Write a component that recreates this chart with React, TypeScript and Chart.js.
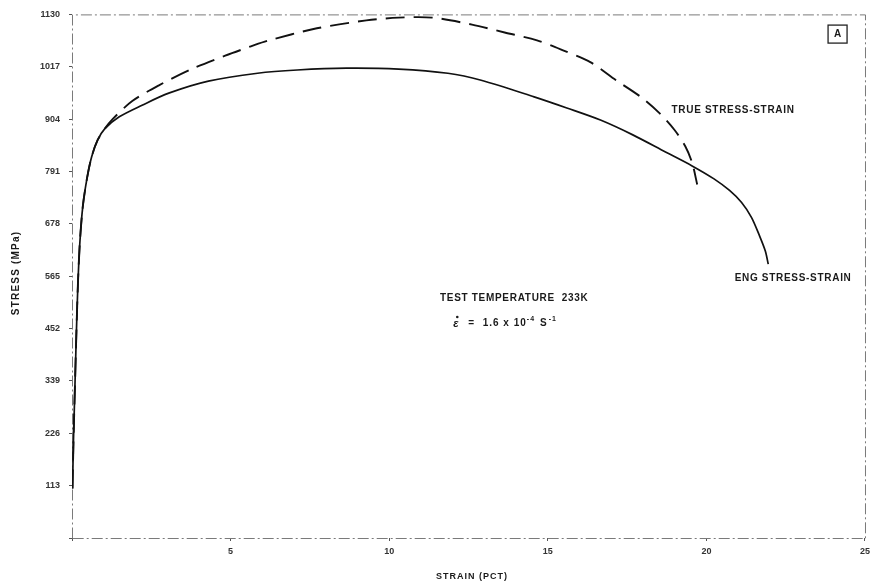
import React, { useEffect, useRef } from "react";
import { Chart, registerables } from "chart.js";

Chart.register(...registerables);

// Engineering stress-strain curve (strain %, stress MPa)
const engStrain = [0.016, 0.047, 0.093, 0.14, 0.19, 0.25, 0.34, 0.47, 0.62, 0.81, 1.03, 1.49, 2.21, 3.05, 4.3, 5.85, 7.1, 8.65, 10.3, 11.85, 12.9, 14.57, 15.6, 16.66, 17.68, 18.71, 19.55, 20.24, 20.73, 21.11, 21.42, 21.67, 21.86, 21.95];
const engStress = [107, 211, 329, 447, 554, 640, 715, 775, 823, 859, 883, 909, 934, 960, 986, 1003, 1010, 1014, 1012, 1003, 988, 952, 928, 902, 870, 833, 803, 775, 750, 724, 692, 653, 619, 591];

// True stress-strain curve
const trueStrain = [0.016, 0.047, 0.093, 0.14, 0.19, 0.25, 0.34, 0.47, 0.62, 0.81, 1.03, 1.28, 1.9, 2.74, 3.77, 4.83, 5.64, 6.16, 7.72, 9.28, 10.3, 11.36, 12.61, 13.64, 14.66, 15.5, 16.34, 17.15, 17.93, 18.52, 18.99, 19.33, 19.55, 19.71];
const trueStress = [107, 211, 329, 447, 554, 640, 715, 775, 823, 859, 883, 904, 943, 977, 1012, 1041, 1061, 1073, 1100, 1117, 1123, 1123, 1108, 1091, 1074, 1052, 1027, 988, 952, 917, 881, 846, 810, 763];

const yTicks = [113, 226, 339, 452, 565, 678, 791, 904, 1017, 1130];
const xTicks = [5, 10, 15, 20, 25];

const FONT = "'Liberation Sans', Arial, sans-serif";

const frame = {
  id: "frame",
  beforeDatasetsDraw(chart: any) {
    const { ctx, chartArea: a } = chart;
    ctx.save();
    ctx.strokeStyle = "#7a7a7a";
    ctx.lineWidth = 1;
    ctx.setLineDash([11, 3, 2, 3]);
    ctx.beginPath();
    ctx.moveTo(a.left + 0.5, a.bottom + 0.5);
    ctx.lineTo(a.left + 0.5, a.top + 0.5);
    ctx.lineTo(a.right + 0.5, a.top + 0.5);
    ctx.lineTo(a.right + 0.5, a.bottom + 0.5);
    ctx.lineTo(a.left + 0.5, a.bottom + 0.5);
    ctx.stroke();
    ctx.restore();
  },
};

const annotations = {
  id: "annotations",
  afterDraw(chart: any) {
    const ctx = chart.ctx;
    const xs = chart.scales.x;
    const ys = chart.scales.y;
    ctx.save();
    ctx.fillStyle = "#1a1a1a";
    ctx.textBaseline = "middle";
    ctx.textAlign = "left";
    ctx.font = `bold 10px ${FONT}`;
    (ctx as any).letterSpacing = "0.7px";
    const lbl = (t: string, sx: number, sy: number) => {
      ctx.fillText(t, xs.getPixelForValue(sx), ys.getPixelForValue(sy));
    };
    lbl("TRUE STRESS-STRAIN", 18.9, 924);
    lbl("ENG STRESS-STRAIN", 20.89, 561);
    lbl("TEST TEMPERATURE  233K", 11.6, 518);
    // strain-rate line
    const x0 = xs.getPixelForValue(12.02);
    const y0 = ys.getPixelForValue(464);
    (ctx as any).letterSpacing = "0px";
    ctx.font = `bold italic 11px ${FONT}`;
    ctx.fillText("ε", x0, y0 + 1);
    ctx.beginPath();
    ctx.arc(x0 + 4, y0 - 6, 1.3, 0, Math.PI * 2);
    ctx.fill();
    (ctx as any).letterSpacing = "1px";
    ctx.font = `bold 10px ${FONT}`;
    let x = x0 + 15;
    const t1 = "=  1.6 x 10";
    ctx.fillText(t1, x, y0);
    x += ctx.measureText(t1).width;
    ctx.font = `bold 7px ${FONT}`;
    ctx.fillText("-4", x, y0 - 4);
    x += ctx.measureText("-4").width + 5;
    ctx.font = `bold 10px ${FONT}`;
    ctx.fillText("S", x, y0);
    x += ctx.measureText("S").width + 1;
    ctx.font = `bold 7px ${FONT}`;
    ctx.fillText("-1", x, y0 - 4);

    // boxed "A"
    (ctx as any).letterSpacing = "0px";
    const bx = xs.getPixelForValue(23.82);
    const by = ys.getPixelForValue(1108);
    ctx.strokeStyle = "#222";
    ctx.lineWidth = 1.3;
    ctx.strokeRect(bx + 0.5, by + 0.5, 19, 18);
    ctx.font = `bold 10px ${FONT}`;
    ctx.textAlign = "center";
    ctx.fillText("A", bx + 10, by + 10);

    // axis titles
    ctx.textAlign = "center";
    ctx.font = `bold 9px ${FONT}`;
    (ctx as any).letterSpacing = "1px";
    ctx.fillText("STRAIN (PCT)", 472, 577);
    ctx.save();
    ctx.translate(16, 273);
    ctx.rotate(-Math.PI / 2);
    ctx.font = `bold 10px ${FONT}`;
    (ctx as any).letterSpacing = "1.2px";
    ctx.fillText("STRESS (MPa)", 0, 0);
    ctx.restore();
    ctx.restore();
  },
};

export default function App() {
  const ref = useRef<HTMLCanvasElement>(null);
  useEffect(() => {
    if (!ref.current) return;
    const chart = new Chart(ref.current, {
      type: "scatter",
      data: {
        datasets: [
          {
            label: "ENG STRESS-STRAIN",
            data: engStrain.map((s, i) => ({ x: s, y: engStress[i] })),
            showLine: true,
            borderColor: "#111",
            borderWidth: 1.7,
            pointRadius: 0,
            tension: 0.3,
            fill: false,
          },
          {
            label: "TRUE STRESS-STRAIN",
            data: trueStrain.map((s, i) => ({ x: s, y: trueStress[i] })),
            showLine: true,
            borderColor: "#111",
            borderWidth: 1.9,
            borderDash: [19, 9],
            pointRadius: 0,
            tension: 0.3,
            fill: false,
          },
        ],
      },
      plugins: [frame, annotations],
      options: {
        responsive: false,
        animation: false,
        layout: { padding: { left: 0, right: 9, top: 12, bottom: 0 } },
        plugins: { legend: { display: false }, tooltip: { enabled: false } },
        scales: {
          x: {
            type: "linear",
            min: 0,
            max: 25,
            afterFit: (s: any) => { s.height = 49; },
            afterBuildTicks: (s: any) => { s.ticks = [0, ...xTicks].map((v) => ({ value: v })); },
            border: { display: false },
            grid: { display: true, drawOnChartArea: false, drawTicks: true, tickLength: 3, color: "#555" },
            ticks: {
              padding: 5,
              color: "#333",
              font: { family: FONT, size: 9, weight: "bold" },
              callback: (v: any) => (v === 0 ? "" : String(v)),
            },
          },
          y: {
            type: "linear",
            min: 0,
            max: 1130,
            afterFit: (s: any) => { s.width = 72; },
            afterBuildTicks: (s: any) => { s.ticks = [0, ...yTicks].map((v) => ({ value: v })); },
            border: { display: false },
            grid: { display: true, drawOnChartArea: false, drawTicks: true, tickLength: 3, color: "#555" },
            ticks: {
              padding: 9,
              color: "#333",
              font: { family: FONT, size: 9, weight: "bold" },
              callback: (v: any) => (v === 0 ? "" : String(Math.round(v))),
            },
          },
        },
      },
    } as any);
    return () => chart.destroy();
  }, []);
  return (
    <div style={{ position: "fixed", left: 0, top: 0, width: 875, height: 587, background: "#fff" }}>
      <canvas ref={ref} width={875} height={587} style={{ width: 875, height: 587 }} />
    </div>
  );
}
